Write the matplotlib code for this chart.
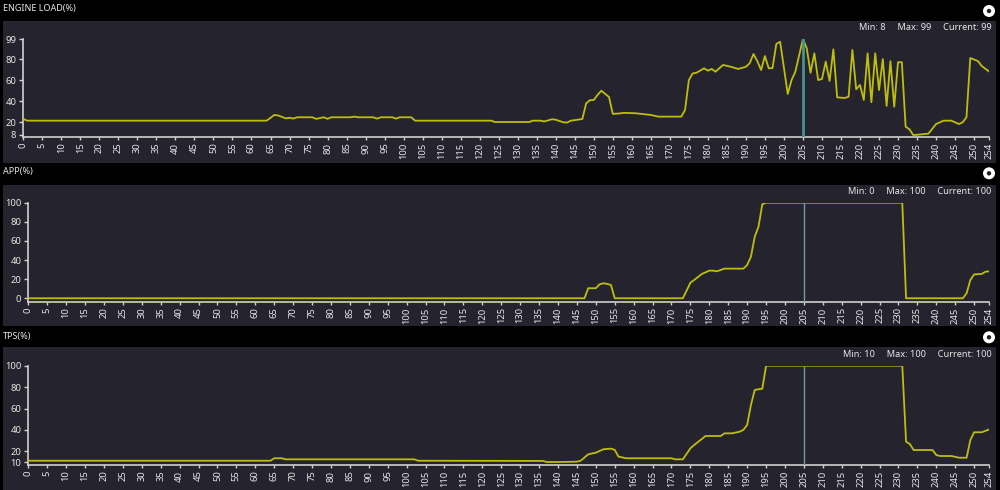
import numpy as np
import matplotlib
matplotlib.use('Agg')
import matplotlib.pyplot as plt
import matplotlib.patches as patches

plt.rcParams['font.family'] = ['Noto Sans', 'DejaVu Sans']

# sample index / value pairs
load_x = [0, 1, 64, 66, 67, 69, 70, 71, 72, 76, 77, 79, 80, 81, 86, 87, 88, 92, 93, 94,
          97, 98, 99, 102, 103, 123, 124, 133, 134, 136, 137, 139, 140, 142, 143, 144, 146,
          147, 148, 149, 150, 151, 152, 153, 154, 155, 157, 158, 161, 165, 167, 173, 174,
          175, 176, 177, 179, 180, 181, 182, 184, 186, 188, 190, 191, 192, 193, 194, 195,
          196, 197, 198, 199, 201, 202, 203, 205, 206, 207, 208, 209, 210, 211, 212, 213,
          214, 216, 217, 218, 219, 220, 221, 222, 223, 224, 225, 226, 227, 228, 229, 230,
          231, 232, 233, 234, 235, 238, 240, 242, 244, 246, 247, 248, 249, 251, 252, 254]
load_y = [23.2, 21.6, 21.6, 27, 26.5, 23.8, 24.3, 23.6, 24.8, 24.8, 23.3, 24.8, 23.3, 24.8,
          24.8, 25.4, 24.8, 24.8, 23.5, 24.8, 24.8, 23.5, 24.8, 24.8, 21.6, 21.6, 20.3, 20.3,
          21.6, 21.6, 20.8, 22.9, 22.5, 20, 19.8, 21.6, 22.6, 23.2, 38, 41, 41.2, 46, 50, 47,
          44, 28, 28.5, 29, 28.6, 27, 25.4, 25.4, 31.7, 60, 66.3, 67, 71.2, 69, 70.6, 68,
          74.4, 72.7, 70.6, 72.7, 76, 84.8, 78, 69.6, 82.9, 71.2, 71.5, 94.3, 96.4, 46.9, 60,
          68, 99, 90.2, 67, 85.4, 60.1, 61, 77.5, 59.2, 89.2, 43.7, 43.1, 44.3, 88.6, 51.3,
          55.4, 41.2, 85.4, 39, 85.4, 50.6, 80, 35.5, 78, 34.8, 77, 77, 15.9, 13.4, 8, 8.2,
          9.3, 18.4, 21.6, 21.6, 18.4, 20, 24.8, 81, 78.1, 73.4, 68]

app_x = [0, 147, 148, 150, 151, 152, 153, 154, 155, 173, 174, 175, 176, 178, 180, 181, 182,
         184, 189, 190, 191, 192, 193, 194, 195, 231, 232, 247, 248, 249, 250, 252, 253, 254]
app_y = [0, 0, 10.5, 10.5, 14.6, 15.7, 15, 13.9, 0, 0, 8, 16.3, 19.1, 25.4, 28.9, 28.9, 28.2,
         31, 31, 34.8, 43.5, 64.4, 74.9, 98.3, 100, 100, 0, 0, 5.2, 19.1, 25, 25.4, 27.8, 28.2]

tps_x = [0, 64, 65, 67, 68, 102, 103, 136, 137, 140, 145, 146, 148, 150, 152, 154, 155,
         156, 158, 170, 171, 173, 175, 176, 179, 183, 184, 186, 188, 189, 190, 191, 192,
         193, 194, 195, 231, 232, 233, 234, 239, 240, 241, 244, 246, 248, 249, 250, 252, 254]
tps_y = [11.2, 11.2, 13.5, 13.5, 12.5, 12.5, 11.2, 11, 10, 10, 10.3, 11.2, 17.2, 18.7, 21.9,
         22.5, 21.3, 15, 13.5, 13.5, 12.5, 12.5, 22.8, 25.9, 34.3, 34.3, 36.8, 36.8, 38.3,
         40, 44.6, 63.3, 77.3, 78, 78.5, 100, 100, 29, 26.8, 21.2, 21.2, 16.5, 15.6, 15.6,
         14, 14, 30.6, 37.8, 37.8, 40.5]

titles = ['ENGINE LOAD(%)', 'APP(%)', 'TPS(%)']
load_yticks = [8, 20, 40, 60, 80, 99]
app_yticks = [0, 20, 40, 60, 80, 100]
tps_yticks = [10, 20, 40, 60, 80, 100]
xticks = list(range(0, 251, 5)) + [254]
cursor = 205

series = [(load_x, load_y, load_yticks), (app_x, app_y, app_yticks), (tps_x, tps_y, tps_yticks)]

# layout in pixels: panel box, axes box (left, top, right, bottom), ylim bottom, text rows
layout = [
    dict(box=(3, 21, 996, 163), ax=(23.3, 39, 989.3, 137), ybot=6.1, title_y=8, stats_y=27,
         icon_y=11, ccol='#4a9090', clw=2.0),
    dict(box=(3, 185, 996, 326), ax=(28.3, 202.7, 989.3, 301.7), ybot=-3.6, title_y=171.5,
         stats_y=191, icon_y=173.3, ccol='#6f9c9e', clw=1.0),
    dict(box=(3, 347, 996, 490), ax=(28.3, 365.7, 989.3, 465), ybot=7.2, title_y=336,
         stats_y=354, icon_y=337.3, ccol='#6f9c9e', clw=1.0),
]

W, H = 1000, 490
fig = plt.figure(figsize=(W / 100, H / 100), dpi=100, facecolor='black')

bg = fig.add_axes([0, 0, 1, 1], zorder=-5)
bg.set_xlim(0, W)
bg.set_ylim(H, 0)
bg.axis('off')

panel_col = '#25242e'
text_col = '#e6e6e6'
line_col = '#bebe0c'
axis_col = '#d0d0d0'

for (xs, ys, yt), lay, title in zip(series, layout, titles):
    x0, y0, x1, y1 = lay['box']
    bg.add_patch(patches.Rectangle((x0, y0), x1 - x0, y1 - y0, color=panel_col, lw=0))
    bg.text(3, lay['title_y'], title, color=text_col, fontsize=6.5, va='center', ha='left')
    bg.add_patch(patches.Circle((989, lay['icon_y']), 6, color='white', lw=0))
    bg.add_patch(patches.Circle((989, lay['icon_y']), 2.2, color='#202020', lw=0))

    cur = np.interp(cursor, xs, ys)
    stats = 'Min: %d     Max: %d     Current: %d' % (round(min(ys)), round(max(ys)), round(cur))
    bg.text(991.5, lay['stats_y'], stats, color=text_col, fontsize=6.6, va='center', ha='right')

    l, t, r, b = lay['ax']
    ax = fig.add_axes([l / W, 1 - b / H, (r - l) / W, (b - t) / H])
    ax.set_facecolor('none')
    ax.plot(xs, ys, color=line_col, lw=1.3, zorder=3)
    ax.plot([cursor, cursor], [lay['ybot'], cur], color=lay['ccol'], lw=lay['clw'], zorder=4)
    ax.set_xlim(0, 254)
    ax.set_ylim(lay['ybot'], yt[-1])
    ax.set_xticks(xticks)
    ax.set_xticklabels([str(v) for v in xticks], rotation=90, fontsize=6.8, color=text_col)
    ax.set_yticks(yt)
    ax.set_yticklabels([str(v) for v in yt], fontsize=6.8, color=text_col)
    for side in ['top', 'right']:
        ax.spines[side].set_visible(False)
    for side in ['left', 'bottom']:
        ax.spines[side].set_color(axis_col)
        ax.spines[side].set_linewidth(1.2)
    ax.tick_params(axis='x', direction='out', length=2.5, width=1, color=axis_col, pad=1.5)
    ax.tick_params(axis='y', direction='out', length=3, width=1, color=axis_col, pad=2)

fig.savefig('out.png', dpi=100, facecolor='black')
